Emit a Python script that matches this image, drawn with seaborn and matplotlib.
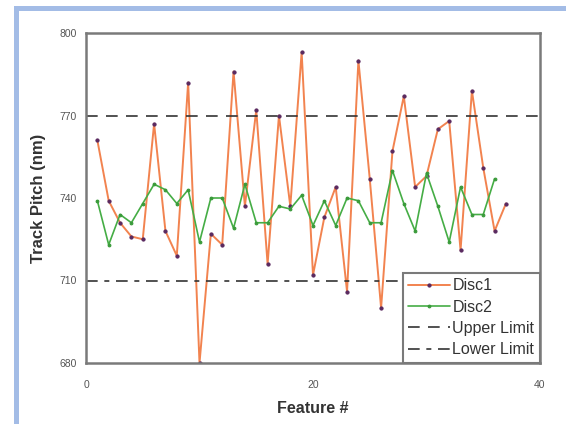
import pandas as pd
import numpy as np
import matplotlib
matplotlib.use("Agg")
import matplotlib.pyplot as plt
from matplotlib.patches import Rectangle
import seaborn as sns

# values
disc1 = [761, 739, 731, 726, 725, 767, 728, 719, 782, 680,
         727, 723, 786, 737, 772, 716, 770, 737, 793, 712,
         733, 744, 706, 790, 747, 700, 757, 777, 744, 748,
         765, 768, 721, 779, 751, 728, 738]
disc2 = [739, 723, 734, 731, 738, 745, 743, 738, 743, 724,
         740, 740, 729, 745, 731, 731, 737, 736, 741, 730,
         739, 730, 740, 739, 731, 731, 750, 738, 728, 749,
         737, 724, 744, 734, 734, 747]
upper_limit = 770
lower_limit = 710
xticks = [0, 20, 40]
yticks = [680, 710, 740, 770, 800]

d1 = pd.DataFrame({"Feature": np.arange(1, len(disc1) + 1), "Pitch": disc1})
d2 = pd.DataFrame({"Feature": np.arange(1, len(disc2) + 1), "Pitch": disc2})

sns.set_style("white")
plt.rcParams['font.family'] = ['Liberation Sans', 'DejaVu Sans']

fig = plt.figure(figsize=(5.66, 4.24), dpi=100)
ax = fig.add_axes([86/566, 1-363/424, 454/566, 330/424])

sns.lineplot(data=d1, x="Feature", y="Pitch", ax=ax, color="#f2834f", lw=1.4,
             marker="o", markersize=2.3, markerfacecolor="#5a2a60",
             markeredgecolor="#5a2a60", label="Disc1")
sns.lineplot(data=d2, x="Feature", y="Pitch", ax=ax, color="#45ad45", lw=1.2,
             marker="o", markersize=2.0, markerfacecolor="#3a9a3a",
             markeredgecolor="#3a9a3a", label="Disc2")
ax.axhline(upper_limit, color="#333333", lw=1.2, ls=(0, (7, 5)), label="Upper Limit")
ax.axhline(lower_limit, color="#333333", lw=1.2, ls=(0, (7, 4, 3, 4)), label="Lower Limit")

ax.set_xlim(0, 40)
ax.set_ylim(680, 800)
ax.set_xticks(xticks)
ax.set_yticks(yticks)
ax.tick_params(axis="both", labelsize=7.5, labelcolor="#555555", color="#777777",
               direction="out", length=3, width=1)
ax.tick_params(axis="x", direction="inout", length=5, pad=10)
for s in ax.spines.values():
    s.set_color("#7a7a7a")
    s.set_linewidth(1.8)

ax.set_xlabel("Feature #", fontsize=11.5, fontweight="bold", color="#333333", labelpad=8)
ax.set_ylabel("Track Pitch (nm)", fontsize=12, fontweight="bold", color="#333333", labelpad=10)

leg = ax.legend(loc="lower right", borderaxespad=0, fontsize=11.5, handlelength=2.6,
                handletextpad=0.15, labelspacing=0.4, borderpad=0.35, fancybox=False,
                framealpha=1, edgecolor="#7a7a7a")
leg.get_frame().set_linewidth(1.5)
for t in leg.get_texts():
    t.set_color("#333333")

# light blue outer frame, cut at right and bottom
fig.patches.append(Rectangle((16/566, -0.2), 1.5, (424-8)/424 + 0.2, fill=False,
                             edgecolor="#a3bce6", lw=3.6, transform=fig.transFigure))

fig.savefig("out.png", dpi=100)
